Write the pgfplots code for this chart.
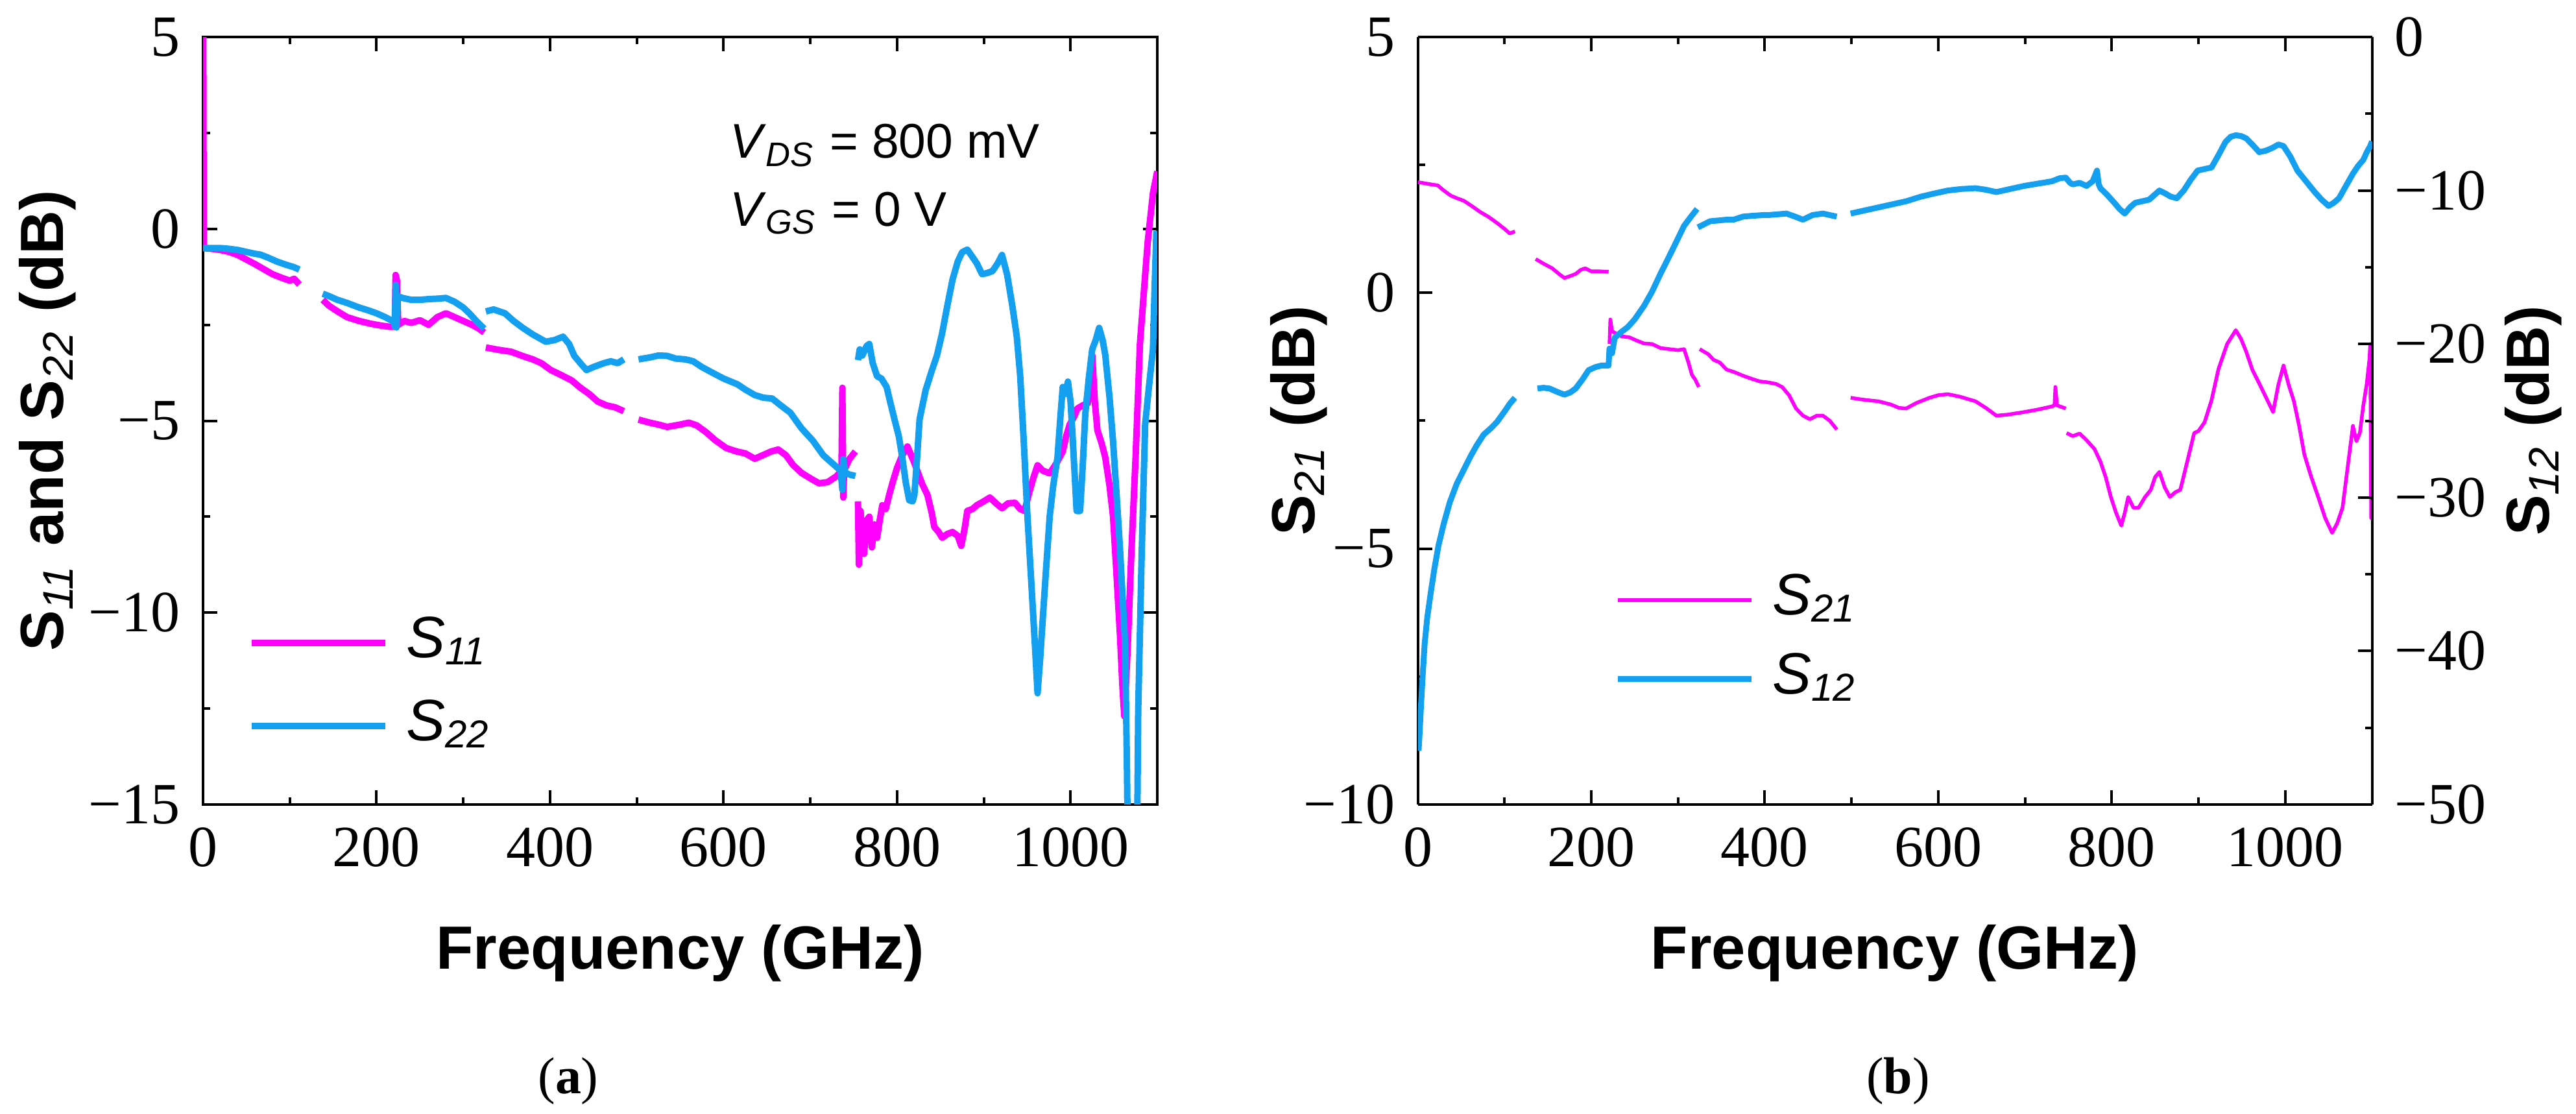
\documentclass[border=0pt]{standalone}
\usepackage{fontspec}
\setmainfont{Liberation Serif}
\newfontfamily\arial{Liberation Sans}
\usepackage{pgfplots}
\pgfplotsset{compat=1.18}
\definecolor{mag}{RGB}{255,0,255}
\definecolor{sky}{RGB}{20,160,240}
\pgfplotsset{
  myaxis/.style={
    scale only axis, width=147.1pt, height=118.3pt,
    xmin=0, xmax=1100,
    tick align=inside, major tick length=2.2pt, minor tick length=1.1pt,
    axis line style={line width=0.4pt},
    every tick/.style={black, line width=0.4pt},
    ticklabel style={font=\fontsize{9}{10}\selectfont},
    xtick={0,200,400,600,800,1000}, xticklabels={0,200,400,600,800,1000},
    minor x tick num=1,
    unbounded coords=jump,
    xlabel={\arial\bfseries\fontsize{9.4}{11}\selectfont Frequency (GHz)},
    every axis x label/.style={at={(axis description cs:0.5,-0.2139)}, anchor=base},
    legend image code/.code={\draw[##1] (0pt,0pt) -- (20.6pt,0pt);},
    legend cell align=left,
  },
  mylegend/.style={legend style={draw=none, fill=none, inner sep=0pt, outer sep=0pt,
    font=\arial\itshape\fontsize{9}{11}\selectfont, column sep=2.7pt,
    nodes={inner sep=0pt, text height=6.6pt, text depth=2pt}}},
}
\begin{document}
\begin{tikzpicture}
\useasboundingbox (0,0) rectangle (397.1pt,171.7pt);
% ---------------- panel (a)
\begin{axis}[myaxis, at={(31.3pt,47.7pt)}, anchor=south west,
  ymin=-15, ymax=5, ytick={-15,-10,-5,0,5}, yticklabels={−15,−10,−5,0,5},
  minor y tick num=1,
  ylabel={\arial\bfseries\fontsize{9.4}{11}\selectfont S\textsubscript{\mdseries\itshape 11} and S\textsubscript{\mdseries\itshape 22} (dB)},
  every axis y label/.style={at={(axis description cs:-0.1462,0.5)}, rotate=90, anchor=base},
  mylegend, legend style={at={(axis description cs:0.0476,0.1564)}, anchor=west, row sep=4.2pt},
]
\addplot[mag, line width=1.0pt, line join=round] coordinates {
(0,8) (0.8,-0.5) (10,-0.52) (20,-0.55) (30,-0.6) (40,-0.68) (50,-0.8) (60,-0.92) (70,-1.05) (80,-1.18) (90,-1.27) (100,-1.35) (105,-1.3) (111,-1.45)
(112,nan)
(138,-1.85) (145,-2.0) (155,-2.15) (166,-2.3) (180,-2.4) (193,-2.47) (205,-2.52) (215,-2.55) (221,-2.55) (222,-1.2) (223.5,-1.35) (225,-2.5) (232,-2.4) (240,-2.45) (250,-2.38) (260,-2.5) (270,-2.3) (280,-2.2) (290,-2.3) (300,-2.4) (310,-2.5) (318,-2.6) (324,-2.7)
(325,nan)
(326,-3.09) (340,-3.15) (355,-3.2) (368,-3.31) (380,-3.4) (390,-3.5) (401,-3.68) (412,-3.8) (425,-3.95) (435,-4.14) (445,-4.3) (455,-4.5) (465,-4.6) (475,-4.65) (485,-4.75)
(490,nan)
(502,-4.97) (515,-5.05) (525,-5.1) (535,-5.16) (550,-5.1) (560,-5.05) (569,-5.12) (580,-5.3) (590,-5.5) (603,-5.71) (615,-5.8) (625,-5.85) (636,-5.99) (645,-5.9) (655,-5.8) (663,-5.75) (672,-5.9) (680,-6.15) (690,-6.36) (700,-6.5) (710,-6.63) (720,-6.6) (730,-6.45) (736,-6.3) (737,-4.14) (738,-7.0) (739,-6.3) (745,-6.0) (752,-5.8)
(753,nan)
(755,-7.1) (756,-8.75) (758,-7.35) (760,-8.1) (762,-8.47) (765,-7.6) (768,-7.5) (771,-8.3) (774,-7.7) (777,-8.05) (780,-7.6) (783,-7.2) (787,-7.3) (791,-6.93) (795,-6.6) (800,-6.23) (806,-5.9) (812,-5.67) (820,-6.1) (829,-6.65) (835,-6.93) (840,-7.4) (843,-7.77) (848,-7.9) (852,-8.05) (858,-7.95) (864,-7.9) (870,-8.0) (874,-8.26) (878,-7.8) (881,-7.35) (887,-7.3) (892,-7.2) (900,-7.1) (907,-7.0) (914,-7.15) (921,-7.28) (928,-7.15) (936,-7.14) (942,-7.3) (947,-7.35) (952,-6.9) (957,-6.5) (962,-6.16) (968,-6.3) (976,-6.37) (984,-6.1) (991,-5.8) (995,-5.4) (999,-5.1) (1004,-4.9) (1008,-4.68) (1014,-4.6) (1020,-4.54) (1023,-4.0) (1025,-3.28) (1028,-4.5) (1031,-5.25) (1036,-5.6) (1040,-5.95) (1045,-6.7) (1049,-7.49) (1053,-9.0) (1057,-10.58) (1060,-12.0) (1062,-12.7) (1064,-11.8) (1066,-10.86) (1070,-8.5) (1075,-5.95) (1080,-3.0) (1085,-1.5) (1089,-0.33) (1095,0.93) (1100,1.5)
};
\addlegendentry{S\textsubscript{11}}
\addplot[sky, line width=1.0pt, line join=round] coordinates {
(0,-0.5) (10,-0.5) (20,-0.5) (30,-0.52) (40,-0.55) (50,-0.6) (60,-0.65) (66,-0.67) (75,-0.75) (85,-0.85) (95,-0.93) (105,-1.0) (111,-1.06)
(112,nan)
(138,-1.69) (145,-1.75) (155,-1.85) (166,-1.93) (180,-2.05) (190,-2.12) (200,-2.2) (210,-2.3) (220,-2.42) (221,-2.55) (222,-1.46) (223,-2.57) (224,-1.75) (230,-1.8) (240,-1.85) (250,-1.85) (260,-1.83) (270,-1.82) (280,-1.8) (290,-1.9) (300,-2.05) (307,-2.2) (315,-2.4) (324,-2.6)
(325,nan)
(326,-2.15) (335,-2.1) (348,-2.2) (358,-2.4) (368,-2.57) (380,-2.75) (395,-2.94) (405,-2.9) (415,-2.81) (422,-3.0) (428,-3.31) (435,-3.5) (442,-3.68) (450,-3.6) (462,-3.5) (470,-3.45) (478,-3.5) (485,-3.4)
(490,nan)
(502,-3.4) (515,-3.35) (525,-3.3) (535,-3.31) (545,-3.38) (556,-3.4) (565,-3.45) (575,-3.6) (589,-3.77) (600,-3.9) (616,-4.05) (626,-4.2) (636,-4.33) (646,-4.4) (656,-4.42) (666,-4.6) (677,-4.79) (690,-5.2) (703,-5.52) (715,-5.9) (725,-6.1) (735,-6.3) (737,-6.8) (738,-6.0) (740,-6.35) (745,-6.4) (752,-6.44)
(753,nan)
(755,-3.42) (757,-3.14) (760,-3.3) (765,-3.05) (768,-3.0) (772,-3.5) (777,-3.84) (782,-3.9) (788,-4.12) (792,-4.5) (797,-4.96) (802,-5.4) (806,-5.95) (810,-6.6) (814,-7.07) (818,-7.1) (820,-6.93) (823,-6.0) (826,-4.96) (833,-4.2) (840,-3.7) (846,-3.3) (852,-2.72) (858,-2.0) (864,-1.32) (870,-0.85) (875,-0.61) (881,-0.54) (886,-0.7) (892,-0.9) (898,-1.18) (904,-1.15) (910,-1.1) (916,-0.9) (921,-0.68) (927,-1.2) (933,-2.02) (938,-2.8) (942,-3.84) (946,-5.5) (950,-7.35) (955,-9.3) (959,-10.86) (962,-12.1) (965,-11.2) (968,-10.16) (972,-8.8) (976,-7.49) (980,-6.7) (985,-5.95) (988,-5.0) (991,-4.12) (994,-4.3) (997,-3.98) (1000,-4.5) (1002,-5.25) (1005,-6.5) (1007,-7.35) (1011,-7.35) (1014,-6.2) (1017,-4.82) (1021,-3.9) (1025,-3.14) (1029,-2.9) (1033,-2.58) (1037,-2.9) (1040,-3.28) (1045,-4.4) (1049,-5.53) (1053,-6.9) (1057,-8.33) (1060,-9.6) (1063,-10.86) (1065,-14) (1067,-18) (1076,-18) (1078,-12.54) (1082,-8.5) (1086,-5.1) (1090,-4.2) (1095,-3.14) (1097,-1.5) (1099,-0.05)
};
\addlegendentry{S\textsubscript{22}}
\node[font=\arial\fontsize{7.5}{9}\selectfont, anchor=base west] at (axis description cs:0.528,0.842) {\textit{V}\textsubscript{\textit{DS}} = 800 mV};
\node[font=\arial\fontsize{7.5}{9}\selectfont, anchor=base west] at (axis description cs:0.528,0.754) {\textit{V}\textsubscript{\textit{GS}} = 0 V};
\end{axis}
% ---------------- panel (b)
\begin{axis}[myaxis, at={(218.55pt,47.7pt)}, anchor=south west,
  axis y line*=left,
  ymin=-10, ymax=5, ytick={-10,-5,0,5}, yticklabels={−10,−5,0,5},
  minor y tick num=1,
  ylabel={\arial\bfseries\fontsize{9.4}{11}\selectfont S\textsubscript{\mdseries\itshape 21} (dB)},
  every axis y label/.style={at={(axis description cs:-0.1078,0.5)}, rotate=90, anchor=base},
  mylegend, legend style={at={(axis description cs:0.207,0.2147)}, anchor=west, row sep=3.6pt},
]
\addplot[mag, line width=0.55pt, line join=round] coordinates {
(0,2.16) (5,2.15) (15,2.12) (23,2.1) (30,2.0) (38,1.9) (45,1.85) (53,1.8) (62,1.7) (72,1.58) (82,1.48) (91,1.37) (100,1.25) (106,1.16) (112,1.2)
(113,nan)
(136,0.66) (145,0.57) (155,0.48) (162,0.38) (169,0.29) (176,0.33) (182,0.37) (188,0.45) (193,0.48) (200,0.42) (210,0.42) (220,0.41)
(220.5,nan)
(221,-1.0) (222,-0.52) (224,-0.75) (227,-0.78) (235,-0.85) (244,-0.87) (252,-0.93) (261,-0.99) (270,-1.0) (280,-1.08) (290,-1.1) (300,-1.12) (307,-1.1) (312,-1.36) (316,-1.6) (320,-1.7) (324,-1.84)
(324.5,nan)
(325,-1.1) (335,-1.2) (341,-1.31) (348,-1.36) (356,-1.5) (365,-1.55) (375,-1.62) (385,-1.68) (394,-1.73) (404,-1.75) (413,-1.78) (420,-1.84) (428,-2.0) (436,-2.26) (444,-2.4) (452,-2.47) (460,-2.4) (467,-2.4) (475,-2.5) (483,-2.67)
(490,nan)
(499,-2.05) (510,-2.08) (520,-2.1) (531,-2.12) (545,-2.18) (555,-2.25) (563,-2.26) (575,-2.15) (590,-2.05) (600,-2.0) (611,-1.98) (625,-2.03) (643,-2.12) (655,-2.25) (667,-2.4) (680,-2.38) (699,-2.33) (715,-2.28) (731,-2.22) (734,-2.2) (735,-1.84) (737,-2.2) (747,-2.26)
(747.5,nan)
(748,-2.74) (755,-2.8) (763,-2.75) (771,-2.88) (780,-3.05) (787,-3.3) (793,-3.6) (799,-3.99) (805,-4.3) (811,-4.55) (815,-4.3) (819,-3.99) (825,-4.2) (831,-4.2) (838,-4.0) (845,-3.85) (850,-3.6) (855,-3.5) (861,-3.8) (867,-3.99) (873,-3.9) (879,-3.85) (887,-3.3) (895,-2.74) (900,-2.7) (907,-2.53) (915,-2.1) (923,-1.49) (933,-1.0) (943,-0.73) (949,-0.9) (955,-1.15) (962,-1.5) (970,-1.77) (978,-2.05) (986,-2.33) (992,-1.8) (998,-1.42) (1004,-1.8) (1010,-2.12) (1016,-2.6) (1022,-3.16) (1030,-3.6) (1038,-3.99) (1046,-4.4) (1054,-4.69) (1060,-4.5) (1066,-4.2) (1072,-3.4) (1078,-2.6) (1082,-2.9) (1086,-2.74) (1090,-2.2) (1094,-1.77) (1097,-1.3) (1098,-1.0) (1099,-4.4) (1100,-2.5)
};
\addlegendentry{S\textsubscript{21}}
\addlegendimage{sky, line width=0.9pt}
\addlegendentry{S\textsubscript{12}}
\end{axis}
\begin{axis}[myaxis, at={(218.55pt,47.7pt)}, anchor=south west,
  axis y line*=right, axis x line=none,
  ymin=-50, ymax=0, ytick={-50,-40,-30,-20,-10,0}, yticklabels={−50,−40,−30,−20,−10,0},
  minor y tick num=1,
  xlabel={},
  ylabel={\arial\bfseries\fontsize{9.4}{11}\selectfont S\textsubscript{\mdseries\itshape 12} (dB)},
  every axis y label/.style={at={(axis description cs:1.1856,0.5)}, rotate=90, anchor=base},
]
\addplot[sky, line width=0.9pt, line join=round] coordinates {
(1,-46.5) (2,-45.5) (4,-43.3) (6,-41.3) (8,-39.5) (11,-37.8) (15,-36.2) (19,-34.7) (24,-33.1) (30,-31.7) (37,-30.3) (45,-29.1) (53,-28.2) (61,-27.3) (68,-26.6) (76,-25.9) (84,-25.5) (91,-25.1) (100,-24.4) (106,-23.9) (112,-23.5)
(113,nan)
(138,-22.9) (145,-22.85) (152,-22.9) (160,-23.1) (169,-23.3) (176,-23.15) (182,-22.9) (190,-22.3) (197,-21.7) (205,-21.5) (212,-21.4) (220,-21.4) (221,-20.3) (224,-20.6) (227,-19.6) (235,-19.2) (242,-18.9) (250,-18.4) (261,-17.5) (270,-16.6) (280,-15.4) (288,-14.5) (295,-13.7) (301,-13.0) (307,-12.3) (315,-11.7) (322,-11.2)
(322.5,nan)
(323,-12.4) (330,-12.2) (337,-12.0) (347,-11.95) (356,-11.9) (364,-11.9) (375,-11.7) (385,-11.65) (398,-11.6) (404,-11.6) (415,-11.55) (425,-11.5) (435,-11.7) (444,-11.9) (455,-11.6) (467,-11.5) (475,-11.6) (483,-11.7)
(490,nan)
(499,-11.5) (515,-11.3) (531,-11.1) (547,-10.9) (563,-10.7) (580,-10.4) (595,-10.2) (611,-10.0) (627,-9.9) (643,-9.85) (655,-9.95) (667,-10.1) (683,-9.9) (699,-9.7) (715,-9.55) (731,-9.4) (740,-9.2) (747,-9.16) (752,-9.5) (755,-9.6) (763,-9.5) (771,-9.7) (778,-9.4) (783,-8.7) (785,-9.6) (787,-9.85) (795,-10.3) (803,-10.8) (809,-11.2) (815,-11.5) (821,-11.1) (827,-10.8) (835,-10.7) (843,-10.6) (849,-10.3) (855,-10.0) (862,-10.2) (868,-10.4) (875,-10.5) (883,-10.0) (891,-9.3) (899,-8.7) (907,-8.6) (915,-8.5) (923,-7.7) (931,-6.85) (937,-6.5) (943,-6.4) (949,-6.45) (955,-6.6) (962,-7.0) (970,-7.5) (978,-7.4) (986,-7.2) (992,-7.0) (998,-7.1) (1006,-7.8) (1014,-8.7) (1024,-9.4) (1034,-10.1) (1042,-10.6) (1050,-11.0) (1056,-10.8) (1062,-10.5) (1070,-9.7) (1078,-8.9) (1084,-8.4) (1090,-8.0) (1094,-7.5) (1098,-7.1) (1100,-6.8)
};
\end{axis}
\node[font=\fontsize{8}{9}\selectfont, anchor=base] at (87.6pt,3.2pt) {(\textbf{a})};
\node[font=\fontsize{8}{9}\selectfont, anchor=base] at (292.6pt,3.2pt) {(\textbf{b})};
\end{tikzpicture}
\end{document}
